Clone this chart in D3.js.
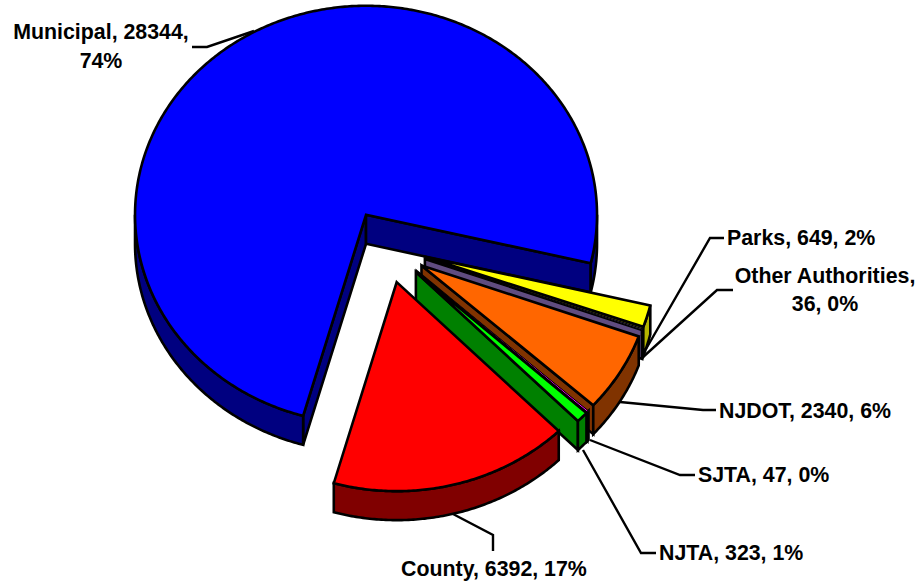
<!DOCTYPE html>
<html>
<head>
<meta charset="utf-8">
<title>Road ownership pie</title>
<script src="https://cdnjs.cloudflare.com/ajax/libs/d3/7.8.5/d3.min.js"></script>
<style>
    html, body { margin: 0; padding: 0; background: #fff; }
    svg { display: block; }
    text { font-family: "Liberation Sans", Arial, sans-serif; font-weight: bold; font-size: 21.35px; fill: #000; }
</style>
</head>
<body>
<svg id="chart" width="919" height="583"></svg>
<script>
'use strict';

// Chart data
var names = ['Municipal', 'Parks', 'Other Authorities', 'NJDOT', 'SJTA', 'NJTA', 'County'];
var miles = [28344, 649, 36, 2340, 47, 323, 6392];
var topColors = ['#0000ff', '#ffff00', '#604c80', '#ff6600', '#ff00ff', '#00ff00', '#ff0000'];
var wallColors = ['#000080', '#b4b400', '#604c80', '#803300', '#800080', '#008000', '#800000'];

// Layout of the tilted pie
var centerX = 386.6;
var centerY = 246.5;
var radiusX = 231;
var radiusY = 209;
var depth = 29;
var explode = 0.176;
var firstAngle = 195.8 * Math.PI / 180;
var edgeWidth = 2.6;
var thinEdgeWidth = 1; // slivers would turn solid black otherwise

// Label text anchors and leader lines, same order as names
var labelSpots = [
    {lines: [[101, 39, 1], [101, 68, 0]], leader: [[192, 47], [207, 47], [254, 31]]},
    {lines: [[727, 245, -1]], leader: [[646, 349], [710, 238], [724, 238]]},
    {lines: [[825, 283, 1], [825, 311, 0]], leader: [[642, 358], [717, 290], [733, 290]]},
    {lines: [[719, 418, -1]], leader: [[620, 402], [703, 410], [716, 410]]},
    {lines: [[698, 482, -1]], leader: [[590, 440], [680, 475], [695, 475]]},
    {lines: [[659, 560, -1]], leader: [[583, 450], [641, 553], [656, 553]]},
    {lines: [[401, 576, -1]], leader: [[453, 514], [493, 535], [493, 551]]}
];

var svg = d3.select('#chart');
var total = d3.sum(miles);
var pct = d3.format('.0%');

// Unit circle -> pixels, the tilt is just a smaller y range
var xScale = d3.scaleLinear().domain([-1, 1]).range([-radiusX, radiusX]);
var yScale = d3.scaleLinear().domain([-1, 1]).range([-radiusY, radiusY]);

var pie = d3.pie()
    .sort(null)
    .startAngle(firstAngle)
    .endAngle(firstAngle + 2 * Math.PI);
var slices = pie(miles);

var outline = d3.line().curve(d3.curveLinearClosed);

function rimPoint(origin, angle, drop) {
    return [origin[0] + xScale(Math.sin(angle)), origin[1] + yScale(-Math.cos(angle)) + drop];
}

// Samples the rim between two angles
function rim(origin, from, to, drop) {
    var steps = Math.max(1, Math.ceil((to - from) / 0.01));
    return d3.range(steps + 1).map(function(i) {
        return rimPoint(origin, from + (to - from) * i / steps, drop);
    });
}

function shape(points, fill, width) {
    svg.append('path')
        .attr('d', outline(points))
        .attr('fill', fill)
        .attr('stroke', '#000')
        .attr('stroke-width', width)
        .attr('stroke-linejoin', 'miter');
}

function cutWall(origin, angle, fill) {
    shape([
        origin,
        rimPoint(origin, angle, 0),
        rimPoint(origin, angle, depth),
        [origin[0], origin[1] + depth]
    ], fill, edgeWidth);
}

// Back to front, later slices sit over the walls of earlier ones
slices.forEach(function(d, i) {
    var mid = (d.startAngle + d.endAngle) / 2;
    var origin = [
        centerX + explode * xScale(Math.sin(mid)),
        centerY + explode * yScale(-Math.cos(mid))
    ];

    // Cut faces only show when they look down the page
    if (Math.sin(d.startAngle) < 0) cutWall(origin, d.startAngle, wallColors[i]);
    if (Math.sin(d.endAngle) > 0) cutWall(origin, d.endAngle, wallColors[i]);

    // Outer wall, only the near half of the rim
    [0, 1].forEach(function(k) {
        var from = Math.max(d.startAngle, Math.PI / 2 + k * 2 * Math.PI);
        var to = Math.min(d.endAngle, 3 * Math.PI / 2 + k * 2 * Math.PI);
        if (from < to) {
            shape(rim(origin, from, to, 0).concat(rim(origin, from, to, depth).reverse()), wallColors[i], edgeWidth);
        }
    });

    var isSliver = d.endAngle - d.startAngle < 0.02;
    shape([origin].concat(rim(origin, d.startAngle, d.endAngle, 0)), topColors[i], isSliver ? thinEdgeWidth : edgeWidth);
});

// Leader lines
svg.selectAll('path.leader')
    .data(labelSpots)
    .enter().append('path')
    .attr('class', 'leader')
    .attr('d', function(d) { return d3.line()(d.leader); })
    .attr('fill', 'none')
    .attr('stroke', '#000')
    .attr('stroke-width', 2.4);

// Labels: name, value, share. Long ones wrap, see labelSpots
function labelLines(i) {
    var share = pct(miles[i] / total);
    if (names[i] === 'Municipal') return [names[i] + ', ' + miles[i] + ',', share];
    if (names[i] === 'Other Authorities') return [names[i] + ',', miles[i] + ', ' + share];
    return [names[i] + ', ' + miles[i] + ', ' + share];
}

labelSpots.forEach(function(spot, i) {
    labelLines(i).forEach(function(line, j) {
        var at = spot.lines[j];
        svg.append('text')
            .attr('x', at[0])
            .attr('y', at[1])
            .attr('text-anchor', at[2] < 0 ? 'start' : 'middle')
            .text(line);
    });
});
</script>
</body>
</html>
